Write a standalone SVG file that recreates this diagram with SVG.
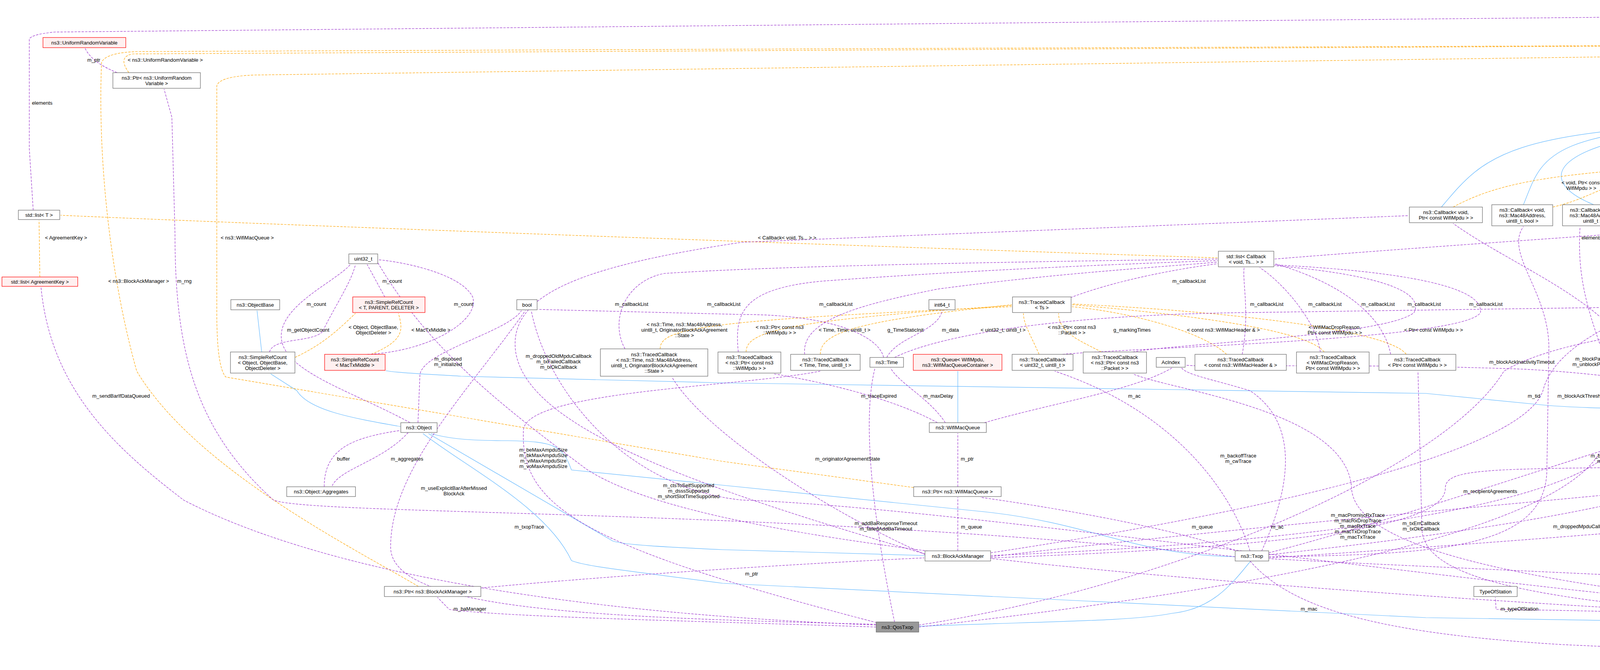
<svg xmlns="http://www.w3.org/2000/svg" width="7353" height="1715" viewBox="0 0 7353 1715">
<style>
text{font-family:"Liberation Sans",Arial,sans-serif;font-size:13px;fill:#000}
.nt{text-anchor:middle}
.l{text-anchor:middle;font-size:13px}
rect.n{fill:#fff;stroke:#666;stroke-width:1.2}
rect.r{fill:#fff0f0;stroke:#f00;stroke-width:1.2}
rect.g{fill:#999;stroke:#666;stroke-width:1.2}
path{fill:none}
.u{stroke:#9a32cd;stroke-width:1.2;stroke-dasharray:6,3;marker-end:url(#mu)}
.t{stroke:#ffa500;stroke-width:1.2;stroke-dasharray:6,3;marker-end:url(#mt)}
.i{stroke:#63b8ff;stroke-width:1.2;marker-end:url(#mi)}
</style>
<defs>
<marker id="mu" markerWidth="12" markerHeight="10" refX="11" refY="5" orient="auto" markerUnits="userSpaceOnUse"><path d="M0,0 L12,5 L0,10 z" fill="#9a32cd" stroke="none"/></marker>
<marker id="mt" markerWidth="12" markerHeight="10" refX="11" refY="5" orient="auto" markerUnits="userSpaceOnUse"><path d="M0,0 L12,5 L0,10 z" fill="#ffa500" stroke="none"/></marker>
<marker id="mi" markerWidth="12" markerHeight="10" refX="11" refY="5" orient="auto" markerUnits="userSpaceOnUse"><path d="M0,0 L12,5 L0,10 z" fill="#63b8ff" stroke="none"/></marker>
</defs>
<rect x="0" y="0" width="7353" height="1715" fill="#fff"/>
<g id="edges">
<!-- inheritance -->
<path class="i" d="M670 901 L658 795"/>
<path class="i" d="M1026 1092 C900 1070 790 1050 760 1000 L693 957"/>
<path class="i" d="M3162 1425 C2900 1420 2800 1340 2520 1310 L1850 1242 L1463 1203 C1440 1140 1420 1130 1300 1128 C1180 1128 1140 1120 1103 1110"/>
<path class="i" d="M2368 1422 L1850 1407 C1700 1400 1600 1395 1569 1385 L1097 1110"/>
<path class="i" d="M5024 1602 L3650 1581 L1850 1493 C1600 1460 1500 1450 1463 1435 C1400 1300 1200 1200 1083 1110"/>
<path class="i" d="M2452 1082 L2452 950"/>
<path class="i" d="M2352 1603 C2700 1590 2900 1590 3000 1570 C3100 1560 3150 1500 3200 1438"/>
<path class="i" d="M5063 1082 C4950 1060 4800 1045 4603 1044 C4400 1048 4100 1050 3954 1037 L3650 1007 L1850 980 L1180 963 C1100 958 1020 955 988 949"/>
<path class="i" d="M3690 530 C3800 400 3850 330 4500 313"/>
<path class="i" d="M3900 524 C3950 400 3950 330 4500 315"/>
<path class="i" d="M4080 524 C3900 450 4000 340 4500 318"/>
<path class="i" d="M4180 525 C4000 480 4200 360 4500 322"/>
<path class="i" d="M4574 403 L4574 329"/>
<path class="i" d="M4872 552 C5250 500 5200 380 4647 313"/>
<path class="i" d="M5212 538 C5230 420 5100 340 4647 316"/>
<path class="i" d="M5395 524 C5300 400 5150 330 4647 310"/>
<!-- template instances -->
<path class="t" d="M330 186 Q300 145 340 138 L6615 105"/>
<path class="t" d="M1071 1501 C900 1400 500 1200 350 950 C280 700 250 400 260 160 Q270 135 350 132 L6615 107"/>
<path class="t" d="M2339 1248 L1850 1181 L578 965 Q555 940 555 800 L555 220 Q560 196 650 192 L6615 112"/>
<path class="t" d="M6080 190 L6615 118"/>
<path class="t" d="M6890 251 L6700 124"/>
<path class="t" d="M7097 353 C7050 250 7000 180 6726 112"/>
<path class="t" d="M6660 907 C6640 800 6620 500 6668 124"/>
<path class="t" d="M5330 1246 C5700 1150 6750 1000 6760 870 L6770 650 C6780 500 6720 300 6690 124"/>
<path class="t" d="M5086 1512 C6000 1450 6880 1400 6885 1100 L6890 800 C6900 500 6760 300 6710 124"/>
<path class="t" d="M5166 1695 C6400 1680 7230 1640 7230 1500 L7230 250 C7220 180 7000 140 6726 110"/>
<path class="t" d="M102 709 L100 564"/>
<path class="t" d="M3117 660 C2500 640 800 580 155 551"/>
<path class="t" d="M755 915 C830 880 870 840 910 802"/>
<path class="t" d="M950 907 C1040 870 1030 840 1020 802"/>
<path class="t" d="M1690 893 C1690 840 1800 820 2590 785"/>
<path class="t" d="M1910 901 C1910 850 2000 820 2590 782"/>
<path class="t" d="M2100 907 C2100 850 2200 820 2590 780"/>
<path class="t" d="M2660 907 C2640 860 2620 830 2620 802"/>
<path class="t" d="M2820 901 C2760 870 2710 850 2710 802"/>
<path class="t" d="M3140 907 C3080 850 2900 800 2744 785"/>
<path class="t" d="M3390 901 C3350 850 3100 810 2744 780"/>
<path class="t" d="M3600 907 C3560 850 3200 800 2744 778"/>
<path class="t" d="M3720 530 C3850 460 4000 440 4475 415"/>
<path class="t" d="M3975 530 C4110 500 4130 430 4475 417"/>
<path class="t" d="M4155 530 C4330 520 4330 440 4480 420"/>
<path class="t" d="M4367 540 C4550 510 4570 470 4575 430"/>
<path class="t" d="M4795 530 C4790 480 4760 440 4673 420"/>
<path class="t" d="M5150 538 C4980 500 4960 440 4673 413"/>
<path class="t" d="M5400 524 C5200 460 5000 430 4673 411"/>
<path class="t" d="M4510 915 C4460 880 4447 840 4447 796"/>
<path class="t" d="M4730 901 C4720 860 4900 805 5100 800 L5716 785"/>
<path class="t" d="M5470 907 L5716 788"/>
<path class="t" d="M4964 1075 C5500 1000 5780 950 5790 795"/>
<path class="t" d="M4400 1156 C4600 1120 5200 1110 5500 1100 C5900 1090 6000 1000 5830 795"/>
<path class="t" d="M5900 987 C6000 950 6050 870 5860 800"/>
<path class="t" d="M6300 901 C6250 850 6050 800 5854 785"/>
<!-- usage -->
<path class="u" d="M300 186 Q235 160 218 124"/>
<path class="u" d="M6670 96 L6670 33"/>
<path class="u" d="M85 538 L75 380 L75 100 Q80 88 140 82 L6649 20"/>
<path class="u" d="M3162 1425 C2000 1300 800 1320 700 1280 C500 1100 448 900 448 600 L440 300 L420 228"/>
<path class="u" d="M2243 1600 C1200 1560 700 1400 470 1280 C300 1150 130 1000 105 735"/>
<path class="u" d="M985 760 L940 677"/>
<path class="u" d="M690 901 C700 860 820 880 830 840 C860 780 900 720 910 677"/>
<path class="u" d="M940 907 C1100 900 1230 820 1210 760 C1180 700 1030 670 969 665"/>
<path class="u" d="M1050 1082 C900 1000 720 950 720 860 C720 780 860 720 897 677"/>
<path class="u" d="M1070 1082 L1075 960 C1080 900 1300 850 1335 795"/>
<path class="u" d="M1045 1107 C980 1180 870 1200 850 1244"/>
<path class="u" d="M830 1246 C830 1150 900 1120 1024 1102"/>
<path class="u" d="M2740 762 C2850 720 3000 690 3117 675"/>
<path class="u" d="M1600 893 C1560 820 1600 720 1700 700 C2000 680 2600 670 3117 663"/>
<path class="u" d="M1890 901 C1880 800 1900 740 2100 720 C2500 690 2900 675 3117 667"/>
<path class="u" d="M2060 907 C2050 820 2200 780 2400 740 C2700 700 2950 685 3117 671"/>
<path class="u" d="M3180 907 C3200 800 3180 720 3185 685"/>
<path class="u" d="M3380 901 C3370 820 3280 720 3225 685"/>
<path class="u" d="M3560 907 C3540 800 3420 720 3263 675"/>
<path class="u" d="M2900 901 C3000 880 3550 860 3620 800 C3650 740 3500 700 3263 680"/>
<path class="u" d="M2720 907 C2900 890 3750 870 3790 800 C3800 720 3500 690 3263 678"/>
<path class="u" d="M2270 915 C2300 860 2400 850 2412 795"/>
<path class="u" d="M2262 915 C2250 860 2130 805 1900 805 L1377 792"/>
<path class="u" d="M2290 915 C2400 860 2700 805 3200 800 L4395 783"/>
<path class="u" d="M3263 663 C3800 620 4300 590 4715 555"/>
<path class="u" d="M2400 1082 C2250 1000 2000 960 1980 957"/>
<path class="u" d="M2420 1082 C2380 1020 2300 980 2280 942"/>
<path class="u" d="M2520 1082 C2700 1030 2900 1000 3000 942"/>
<path class="u" d="M2452 1246 L2452 1109"/>
<path class="u" d="M2452 1410 L2452 1273"/>
<path class="u" d="M3170 1412 C3000 1350 2700 1300 2510 1273"/>
<path class="u" d="M3230 1410 C3280 1300 3350 1100 3200 1000 C3100 970 3040 960 3025 942"/>
<path class="u" d="M3200 1410 C3150 1250 3000 1050 2700 950"/>
<path class="u" d="M2370 1420 C2100 1300 1800 1100 1720 965"/>
<path class="u" d="M2290 1592 C2250 1400 2200 1100 2240 942"/>
<path class="u" d="M2243 1605 C1800 1590 1300 1580 1150 1560 L1120 1529"/>
<path class="u" d="M1231 1505 C1600 1470 2100 1440 2366 1428"/>
<path class="u" d="M2243 1598 C1500 1580 1000 1560 1000 1400 C1000 1200 1200 1000 1345 795"/>
<path class="u" d="M2245 1594 C1500 1400 1330 1300 1340 1100 C1350 1000 1900 990 2100 950"/>
<path class="u" d="M5024 1600 C4000 1540 2500 1300 1900 1280 C1600 1250 1400 1000 1360 795"/>
<path class="u" d="M2368 1418 C1800 1250 1350 1100 1320 900 C1300 750 1500 680 1900 620 L3606 552"/>
<path class="u" d="M5024 1606 C3000 1500 1800 1400 1500 1200 C1300 1050 1100 900 967 672"/>
<path class="u" d="M5026 1598 C4000 1520 3470 1420 3460 1250 C3450 1050 3000 1000 2900 957"/>
<path class="u" d="M5024 1606 C4000 1560 3640 1500 3640 1350 L3630 950"/>
<path class="u" d="M5024 1596 C4400 1560 4245 1400 4245 1200 L4255 580"/>
<path class="u" d="M3248 1425 C3700 1420 3960 1400 3960 1200 L3965 900 C3970 750 3850 650 3900 580"/>
<path class="u" d="M5024 1600 C4400 1570 4205 1500 4205 1300 L4200 1000 C4200 800 3900 700 3720 572"/>
<path class="u" d="M2536 1422 C3600 1380 4150 1250 4150 1100 C4130 900 4030 800 4045 580"/>
<path class="u" d="M2352 1600 C3000 1500 3700 1200 3850 950 C4100 800 4900 810 5030 795"/>
<path class="u" d="M5030 1595 C4750 1500 4680 1300 4690 1100 C4700 950 4900 820 5040 795"/>
<path class="u" d="M2536 1415 C3300 1300 3900 1150 3950 1000 C4000 800 4500 700 4784 663"/>
<path class="u" d="M2352 1605 C3300 1500 4000 1350 4100 1150 C4200 900 4500 700 4784 668"/>
<path class="u" d="M2536 1428 C3300 1400 3700 1350 3700 1250 C3700 1200 3800 1200 4238 1196"/>
<path class="u" d="M2536 1425 C3600 1300 4500 1250 5100 1150 L5790 1044"/>
<path class="u" d="M3248 1420 C3900 1350 4500 1250 4560 1100 C4650 1000 4700 980 4720 957"/>
<path class="u" d="M4760 901 C4740 850 4790 780 4812 677"/>
<path class="u" d="M4690 901 C4650 870 4680 840 4690 802"/>
<path class="u" d="M5024 1600 C4700 1560 4560 1450 4560 1300 L4561 942"/>
<path class="u" d="M4561 915 L4545 800 C4560 740 4700 690 4784 670"/>
<path class="u" d="M4806 1080 C4500 1020 4200 960 3900 945 C3500 930 3100 940 3036 935"/>
<path class="u" d="M3248 1415 C3700 1300 4500 1000 4880 942"/>
<path class="u" d="M4480 767 C4700 720 5000 680 5259 662"/>
<path class="u" d="M5730 767 C5600 720 5450 680 5301 662"/>
<path class="u" d="M5852 777 C6300 740 6560 650 6570 400 C6580 300 6700 250 6740 150 C6760 80 6720 30 6692 22"/>
<path class="u" d="M5245 834 C5200 780 5000 720 4855 670"/>
<path class="u" d="M5420 767 C5350 700 5100 680 4855 662"/>
<path class="u" d="M5360 907 C5380 870 5400 830 5410 795"/>
<path class="u" d="M5310 907 C5200 880 5120 850 5070 795"/>
<path class="u" d="M5140 1082 C5200 1030 5350 1000 5400 950"/>
<path class="u" d="M5110 1082 L5080 795"/>
<path class="u" d="M5260 1246 C5250 1180 5180 1140 5160 1109"/>
<path class="u" d="M5100 1592 C5180 1500 5230 1400 5260 1273"/>
<path class="u" d="M3248 1428 C4000 1380 4900 1300 5180 1273"/>
<path class="u" d="M5060 1592 C5020 1500 5000 1300 5000 1100 L5040 795"/>
<path class="u" d="M5060 1592 C4900 1550 4890 1400 4890 1300 L4890 1124"/>
<path class="u" d="M5060 1592 L5010 1529"/>
<path class="u" d="M4924 1515 C4400 1480 3600 1450 3250 1430"/>
<path class="u" d="M5076 1682 L5076 1620"/>
<path class="u" d="M3200 1436 C3300 1550 3500 1620 4000 1650 L4983 1695"/>
<path class="u" d="M5024 1602 C4500 1570 3900 1560 3830 1560 L3828 1529"/>
<path class="u" d="M5128 1602 C5500 1580 5660 1500 5665 1300 L5655 965"/>
<path class="u" d="M5128 1600 C5450 1550 5517 1450 5517 1300 L5500 795"/>
<path class="u" d="M5128 1600 C5350 1520 5400 1400 5400 1200 L5260 861"/>
<path class="u" d="M5128 1604 C5700 1570 6100 1520 6100 1300 L6100 1100 C6100 1000 6200 980 6258 957"/>
<path class="u" d="M5128 1606 C5900 1580 6530 1540 6530 1400 L6532 900 C6530 750 6300 600 5559 551"/>
<path class="u" d="M5128 1604 C5800 1580 6410 1540 6410 1400 L6430 1000 C6440 800 6300 740 5800 700 C5500 660 5350 620 5290 564"/>
<path class="u" d="M5128 1606 C6000 1590 6725 1550 6725 1400 L6685 950"/>
<path class="u" d="M5128 1608 C6200 1600 6985 1560 6985 1400 L6912 279"/>
<path class="u" d="M5128 1608 C6250 1605 7097 1570 7097 1400 L7097 380"/>
<path class="u" d="M4645 308 L5881 216"/>
</g>
<g id="edge-labels">
<text class="l" x="108" y="268">elements</text>
<text class="l" x="240" y="158">m_ptr</text>
<text class="l" x="423" y="158">&lt; ns3::UniformRandomVariable &gt;</text>
<text class="l" x="633" y="613">&lt; ns3::WifiMacQueue &gt;</text>
<text class="l" x="355" y="724">&lt; ns3::BlockAckManager &gt;</text>
<text class="l" x="472" y="724">m_rng</text>
<text class="l" x="169" y="613">&lt; AgreementKey &gt;</text>
<text class="l" x="2015" y="613">&lt; Callback&lt; void, Ts... &gt; &gt;</text>
<text class="l" x="310" y="1018">m_sendBarIfDataQueued</text>
<text class="l" x="1004" y="724">m_count</text>
<text class="l" x="810" y="783">m_count</text>
<text class="l" x="1187" y="783">m_count</text>
<text class="l" x="789" y="849">m_getObjectCount</text>
<text class="l" x="956" y="842"><tspan x="956">&lt; Object, ObjectBase,</tspan><tspan x="956" dy="14">ObjectDeleter &gt;</tspan></text>
<text class="l" x="1103" y="849">&lt; MacTxMiddle &gt;</text>
<text class="l" x="1617" y="783">m_callbackList</text>
<text class="l" x="1853" y="783">m_callbackList</text>
<text class="l" x="2140" y="783">m_callbackList</text>
<text class="l" x="3044" y="724">m_callbackList</text>
<text class="l" x="3243" y="783">m_callbackList</text>
<text class="l" x="3392" y="783">m_callbackList</text>
<text class="l" x="3528" y="783">m_callbackList</text>
<text class="l" x="3646" y="783">m_callbackList</text>
<text class="l" x="3804" y="783">m_callbackList</text>
<text class="l" x="1752" y="835"><tspan x="1752">&lt; ns3::Time, ns3::Mac48Address,</tspan><tspan x="1752" dy="14">uint8_t, OriginatorBlockAckAgreement</tspan><tspan x="1752" dy="14">::State &gt;</tspan></text>
<text class="l" x="1996" y="842"><tspan x="1996">&lt; ns3::Ptr&lt; const ns3</tspan><tspan x="1996" dy="14">::WifiMpdu &gt; &gt;</tspan></text>
<text class="l" x="2162" y="849">&lt; Time, Time, uint8_t &gt;</text>
<text class="l" x="2318" y="849">g_TimeStaticInit</text>
<text class="l" x="2433" y="849">m_data</text>
<text class="l" x="2568" y="849">&lt; uint32_t, uint8_t &gt;</text>
<text class="l" x="2744" y="842"><tspan x="2744">&lt; ns3::Ptr&lt; const ns3</tspan><tspan x="2744" dy="14">::Packet &gt; &gt;</tspan></text>
<text class="l" x="2898" y="849">g_markingTimes</text>
<text class="l" x="3132" y="849">&lt; const ns3::WifiMacHeader &amp; &gt;</text>
<text class="l" x="3417" y="842"><tspan x="3417">&lt; WifiMacDropReason,</tspan><tspan x="3417" dy="14">Ptr&lt; const WifiMpdu &gt; &gt;</tspan></text>
<text class="l" x="3670" y="849">&lt; Ptr&lt; const WifiMpdu &gt; &gt;</text>
<text class="l" x="5411" y="267">m_impl</text>
<text class="l" x="4048" y="472"><tspan x="4048">&lt; void, Ptr&lt; const</tspan><tspan x="4048" dy="14">WifiMpdu &gt; &gt;</tspan></text>
<text class="l" x="4232" y="472"><tspan x="4232">&lt; void, ns3::Mac48Address,</tspan><tspan x="4232" dy="14">uint8_t, bool &gt;</tspan></text>
<text class="l" x="4449" y="472"><tspan x="4449">&lt; void, ns3::Mac48Address,</tspan><tspan x="4449" dy="14">uint8_t &gt;</tspan></text>
<text class="l" x="4667" y="472"><tspan x="4667">&lt; void, WifiMacDropReason,</tspan><tspan x="4667" dy="14">Ptr&lt; const WifiMpdu &gt; &gt;</tspan></text>
<text class="l" x="4840" y="478">&lt; void, Ts... &gt;</text>
<text class="l" x="4955" y="478">&lt; void &gt;</text>
<text class="l" x="5247" y="465"><tspan x="5247">&lt; void, Ptr&lt; const</tspan><tspan x="5247" dy="14">Packet &gt;, Mac48Address,</tspan><tspan x="5247" dy="14">Mac48Address &gt;</tspan></text>
<text class="l" x="4075" y="613">elements</text>
<text class="l" x="3896" y="931">m_blockAckInactivityTimeout</text>
<text class="l" x="4080" y="923"><tspan x="4080">m_blockPackets</tspan><tspan x="4080" dy="14">m_unblockPackets</tspan></text>
<text class="l" x="4330" y="931">m_droppedMpduCallback</text>
<text class="l" x="3927" y="1018">m_tid</text>
<text class="l" x="4051" y="1018">m_blockAckThreshold</text>
<text class="l" x="4599" y="1018">keys</text>
<text class="l" x="5145" y="931">m_sequence</text>
<text class="l" x="5150" y="1018">m_scheduler</text>
<text class="l" x="5339" y="1018">m_qosSequences</text>
<text class="l" x="4136" y="1171"><tspan x="4136">m_blockAckThreshold</tspan><tspan x="4136" dy="14">m_nMaxInflights</tspan></text>
<text class="l" x="3815" y="1262">m_recipientAgreements</text>
<text class="l" x="4572" y="1179">m_links</text>
<text class="l" x="5140" y="1179">m_originatorAgreements</text>
<text class="l" x="5278" y="1179">m_ptr</text>
<text class="l" x="5070" y="1239"><tspan x="5070">m_beMaxAmsduSize</tspan><tspan x="5070" dy="14">m_bkMaxAmsduSize</tspan><tspan x="5070" dy="14">m_viMaxAmsduSize</tspan><tspan x="5070" dy="14">m_voMaxAmsduSize</tspan></text>
<text class="l" x="4782" y="1262">m_blockAckInactivityTimeout</text>
<text class="l" x="3638" y="1344"><tspan x="3638">m_txErrCallback</tspan><tspan x="3638" dy="14">m_txOkCallback</tspan></text>
<text class="l" x="4050" y="1352">m_droppedMpduCallback</text>
<text class="l" x="4280" y="1344"><tspan x="4280">m_ackedMpduCallback</tspan><tspan x="4280" dy="14">m_nackedMpduCallback</tspan></text>
<text class="l" x="4596" y="1352">m_linkIds</text>
<text class="l" x="5081" y="1352">m_txMiddle</text>
<text class="l" x="4915" y="1427">m_edca</text>
<text class="l" x="4291" y="1473">m_ptr</text>
<text class="l" x="5250" y="1473">m_txMiddle</text>
<text class="l" x="3890" y="1563">m_typeOfStation</text>
<text class="l" x="5076" y="1563">m_txop</text>
<text class="l" x="5100" y="1654">m_ptr</text>
<text class="l" x="5430" y="1262">m_ssid</text>
<text class="l" x="4876" y="724">keys</text>
<text class="l" x="5084" y="717"><tspan x="5084">m_length</tspan><tspan x="5084" dy="14">m_ssid</tspan></text>
<text class="l" x="5386" y="724">m_address</text>
<text class="l" x="4587" y="783">keys</text>
<text class="l" x="4828" y="783">keys</text>
<text class="l" x="4498" y="849">&lt; uint8_t &gt;</text>
<text class="l" x="4635" y="849">elements</text>
<text class="l" x="4830" y="842"><tspan x="4830">&lt; uint8_t, std::unique</tspan><tspan x="4830" dy="14">_ptr&lt; ns3::Txop::LinkEntity &gt; &gt;</tspan></text>
<text class="l" x="4990" y="849">m_tid</text>
<text class="l" x="5167" y="849">elements</text>
<text class="l" x="5340" y="849">keys</text>
<text class="l" x="6696" y="67">m_ptr</text>
<text class="l" x="6503" y="158">&lt; ns3::CallbackImplBase &gt;</text>
<text class="l" x="6876" y="158">&lt; ns3::MacRxMiddle &gt;</text>
<text class="l" x="7114" y="210">&lt; ns3::WifiNetDevice &gt;</text>
<text class="l" x="6601" y="369">elements</text>
<text class="l" x="6713" y="478">&lt; ns3::WifiMacQueueScheduler &gt;</text>
<text class="l" x="6840" y="613">&lt; ns3::MacTxMiddle &gt;</text>
<text class="l" x="6933" y="724">&lt; ns3::Txop &gt;</text>
<text class="l" x="5612" y="724">keys</text>
<text class="l" x="6422" y="783">keys</text>
<text class="l" x="7029" y="849">m_rxMiddle</text>
<text class="l" x="7288" y="849">&lt; ns3::WifiMac &gt;</text>
<text class="l" x="5509" y="842"><tspan x="5509">&lt; ns3::Mac48Address,</tspan><tspan x="5509" dy="14">uint16_t * &gt;</tspan></text>
<text class="l" x="5636" y="849">keys</text>
<text class="l" x="5736" y="849">elements</text>
<text class="l" x="6070" y="835"><tspan x="6070">&lt; AgreementKey, std</tspan><tspan x="6070" dy="14">::pair&lt; OriginatorBlockAck</tspan><tspan x="6070" dy="14">Agreement, PacketQueue &gt; &gt;</tspan></text>
<text class="l" x="6319" y="842"><tspan x="6319">&lt; uint8_t, std::unique</tspan><tspan x="6319" dy="14">_ptr&lt; ns3::WifiMac::LinkEntity &gt; &gt;</tspan></text>
<text class="l" x="5872" y="923"><tspan x="5872">&lt; AcIndex, Ptr&lt; QosTxop</tspan><tspan x="5872" dy="14">&gt;, std::greater&lt;&gt; &gt;</tspan></text>
<text class="l" x="6070" y="923"><tspan x="6070">&lt; AgreementKey, Recipient</tspan><tspan x="6070" dy="14">BlockAckAgreement &gt;</tspan></text>
<text class="l" x="7132" y="931">m_device</text>
<text class="l" x="6464" y="1091"><tspan x="6464">m_linkDown</tspan><tspan x="6464" dy="14">m_linkUp</tspan></text>
<text class="l" x="6580" y="1098">m_forwardUp</text>
<text class="l" x="5556" y="1262">m_address</text>
<text class="l" x="5742" y="1344"><tspan x="5742">m_dlTidLinkMappings</tspan><tspan x="5742" dy="14">m_ulTidLinkMappings</tspan></text>
<text class="l" x="6130" y="1352">m_links</text>
<text class="l" x="6760" y="1352">m_scheduler</text>
<text class="l" x="1147" y="923"><tspan x="1147">m_disposed</tspan><tspan x="1147" dy="14">m_initialized</tspan></text>
<text class="l" x="1430" y="916"><tspan x="1430">m_droppedOldMpduCallback</tspan><tspan x="1430" dy="14">m_txFailedCallback</tspan><tspan x="1430" dy="14">m_txOkCallback</tspan></text>
<text class="l" x="879" y="1179">buffer</text>
<text class="l" x="1042" y="1179">m_aggregates</text>
<text class="l" x="1391" y="1156"><tspan x="1391">m_beMaxAmpduSize</tspan><tspan x="1391" dy="14">m_bkMaxAmpduSize</tspan><tspan x="1391" dy="14">m_viMaxAmpduSize</tspan><tspan x="1391" dy="14">m_voMaxAmpduSize</tspan></text>
<text class="l" x="1162" y="1254"><tspan x="1162">m_useExplicitBarAfterMissed</tspan><tspan x="1162" dy="14">BlockAck</tspan></text>
<text class="l" x="1763" y="1247"><tspan x="1763">m_ctsToSelfSupported</tspan><tspan x="1763" dy="14">m_dsssSupported</tspan><tspan x="1763" dy="14">m_shortSlotTimeSupported</tspan></text>
<text class="l" x="1355" y="1353">m_txopTrace</text>
<text class="l" x="1203" y="1563">m_baManager</text>
<text class="l" x="2250" y="1018">m_traceExpired</text>
<text class="l" x="2402" y="1018">m_maxDelay</text>
<text class="l" x="2904" y="1018">m_ac</text>
<text class="l" x="2170" y="1179">m_originatorAgreementState</text>
<text class="l" x="2476" y="1179">m_ptr</text>
<text class="l" x="3170" y="1171"><tspan x="3170">m_backoffTrace</tspan><tspan x="3170" dy="14">m_cwTrace</tspan></text>
<text class="l" x="2268" y="1344"><tspan x="2268">m_addBaResponseTimeout</tspan><tspan x="2268" dy="14">m_failedAddBaTimeout</tspan></text>
<text class="l" x="2487" y="1353">m_queue</text>
<text class="l" x="3078" y="1353">m_queue</text>
<text class="l" x="3270" y="1353">m_ac</text>
<text class="l" x="3476" y="1323"><tspan x="3476">m_macPromiscRxTrace</tspan><tspan x="3476" dy="14">m_macRxDropTrace</tspan><tspan x="3476" dy="14">m_macRxTrace</tspan><tspan x="3476" dy="14">m_macTxDropTrace</tspan><tspan x="3476" dy="14">m_macTxTrace</tspan></text>
<text class="l" x="1924" y="1473">m_ptr</text>
<text class="l" x="3351" y="1563">m_mac</text>
</g>
<g id="n1"><rect class="r" x="110" y="96" width="212" height="26"/><text class="nt" x="216" y="113.5">ns3::UniformRandomVariable</text></g>
<g id="n2"><rect class="n" x="289" y="186" width="224" height="40"/><text class="nt" x="401" y="203.5">ns3::Ptr&lt; ns3::UniformRandom</text><text class="nt" x="401" y="217.5">Variable &gt;</text></g>
<g id="n3"><rect class="n" x="47" y="538" width="106" height="24"/><text class="nt" x="100" y="554.5">std::list&lt; T &gt;</text></g>
<g id="n4"><rect class="r" x="5" y="709" width="194" height="24"/><text class="nt" x="102" y="725.5">std::list&lt; AgreementKey &gt;</text></g>
<g id="n5"><rect class="n" x="893" y="650" width="74" height="25"/><text class="nt" x="930" y="667">uint32_t</text></g>
<g id="n6"><rect class="n" x="591" y="767" width="125" height="26"/><text class="nt" x="653.5" y="784.5">ns3::ObjectBase</text></g>
<g id="n7"><rect class="r" x="903" y="760" width="185" height="40"/><text class="nt" x="995.5" y="777.5">ns3::SimpleRefCount</text><text class="nt" x="995.5" y="791.5">&lt; T, PARENT, DELETER &gt;</text></g>
<g id="n8"><rect class="n" x="1323" y="767" width="52" height="26"/><text class="nt" x="1349" y="784.5">bool</text></g>
<g id="n9"><rect class="n" x="2378" y="767" width="67" height="26"/><text class="nt" x="2411.5" y="784.5">int64_t</text></g>
<g id="n10"><rect class="n" x="2592" y="760" width="150" height="40"/><text class="nt" x="2667" y="777.5">ns3::TracedCallback</text><text class="nt" x="2667" y="791.5">&lt; Ts &gt;</text></g>
<g id="n11"><rect class="n" x="3119" y="643" width="142" height="40"/><text class="nt" x="3190" y="660.5">std::list&lt; Callback</text><text class="nt" x="3190" y="674.5">&lt; void, Ts... &gt; &gt;</text></g>
<g id="n12"><rect class="n" x="4503" y="302" width="142" height="25"/><text class="nt" x="4574" y="319">ns3::CallbackBase</text></g>
<g id="n13"><rect class="n" x="4477" y="403" width="194" height="25"/><text class="nt" x="4574" y="420">ns3::Callback&lt; R, UArgs &gt;</text></g>
<g id="n14"><rect class="n" x="3608" y="530" width="187" height="40"/><text class="nt" x="3701.5" y="547.5">ns3::Callback&lt; void,</text><text class="nt" x="3701.5" y="561.5">Ptr&lt; const WifiMpdu &gt; &gt;</text></g>
<g id="n15"><rect class="n" x="3819" y="524" width="156" height="54"/><text class="nt" x="3897" y="541.5">ns3::Callback&lt; void,</text><text class="nt" x="3897" y="555.5">ns3::Mac48Address,</text><text class="nt" x="3897" y="569.5">uint8_t, bool &gt;</text></g>
<g id="n16"><rect class="n" x="4000" y="524" width="155" height="54"/><text class="nt" x="4077.5" y="541.5">ns3::Callback&lt; void,</text><text class="nt" x="4077.5" y="555.5">ns3::Mac48Address,</text><text class="nt" x="4077.5" y="569.5">uint8_t &gt;</text></g>
<g id="n17"><rect class="n" x="4179" y="524" width="188" height="54"/><text class="nt" x="4273" y="541.5">ns3::Callback&lt; void,</text><text class="nt" x="4273" y="555.5">WifiMacDropReason,</text><text class="nt" x="4273" y="569.5">Ptr&lt; const WifiMpdu &gt; &gt;</text></g>
<g id="n18"><rect class="n" x="4717" y="530" width="155" height="40"/><text class="nt" x="4794.5" y="547.5">ns3::Callback&lt; void,</text><text class="nt" x="4794.5" y="561.5">Ts... &gt;</text></g>
<g id="n19"><rect class="n" x="5126" y="538" width="158" height="24"/><text class="nt" x="5205" y="554.5">ns3::Callback&lt; void &gt;</text></g>
<g id="n20"><rect class="n" x="5317" y="524" width="240" height="54"/><text class="nt" x="5437" y="541.5">ns3::Callback&lt; void,</text><text class="nt" x="5437" y="555.5">Ptr&lt; const Packet &gt;</text><text class="nt" x="5437" y="569.5">, Mac48Address, Mac48Address &gt;</text></g>
<g id="n21"><rect class="n" x="4786" y="650" width="67" height="25"/><text class="nt" x="4819.5" y="667">uint8_t</text></g>
<g id="n22"><rect class="n" x="5261" y="650" width="38" height="25"/><text class="nt" x="5280" y="667">K</text></g>
<g id="n23"><rect class="n" x="4397" y="767" width="109" height="26"/><text class="nt" x="4451.5" y="784.5">std::set&lt; K &gt;</text></g>
<g id="n24"><rect class="r" x="4615" y="760" width="157" height="40"/><text class="nt" x="4693.5" y="777.5">std::unique_ptr&lt; ns3</text><text class="nt" x="4693.5" y="791.5">::Txop::LinkEntity &gt;</text></g>
<g id="n25"><rect class="n" x="5022" y="767" width="75" height="26"/><text class="nt" x="5059.5" y="784.5">uint16_t</text></g>
<g id="n26"><rect class="r" x="5365" y="767" width="148" height="26"/><text class="nt" x="5439" y="784.5">ns3::Mac48Address</text></g>
<g id="n27"><rect class="r" x="5211" y="834" width="76" height="25"/><text class="nt" x="5249" y="851">ns3::Ssid</text></g>
<g id="n28"><rect class="n" x="6651" y="5" width="39" height="26"/><text class="nt" x="6670.5" y="22.5">T</text></g>
<g id="n29"><rect class="n" x="6617" y="96" width="107" height="26"/><text class="nt" x="6670.5" y="113.5">ns3::Ptr&lt; T &gt;</text></g>
<g id="n30"><rect class="r" x="5883" y="186" width="201" height="40"/><text class="nt" x="5983.5" y="203.5">ns3::Ptr&lt; ns3::CallbackImpl</text><text class="nt" x="5983.5" y="217.5">Base &gt;</text></g>
<g id="n31"><rect class="r" x="6795" y="251" width="218" height="26"/><text class="nt" x="6904" y="268.5">ns3::Ptr&lt; ns3::MacRxMiddle &gt;</text></g>
<g id="n32"><rect class="r" x="6985" y="353" width="224" height="25"/><text class="nt" x="7097" y="370">ns3::Ptr&lt; ns3::WifiNetDevice &gt;</text></g>
<g id="n33"><rect class="n" x="5718" y="767" width="134" height="26"/><text class="nt" x="5785" y="784.5">std::map&lt; K, T &gt;</text></g>
<g id="n34"><rect class="n" x="590" y="901" width="165" height="54"/><text class="nt" x="672.5" y="918.5">ns3::SimpleRefCount</text><text class="nt" x="672.5" y="932.5">&lt; Object, ObjectBase,</text><text class="nt" x="672.5" y="946.5">ObjectDeleter &gt;</text></g>
<g id="n35"><rect class="r" x="831" y="907" width="155" height="41"/><text class="nt" x="908.5" y="925">ns3::SimpleRefCount</text><text class="nt" x="908.5" y="939">&lt; MacTxMiddle &gt;</text></g>
<g id="n36"><rect class="n" x="1026" y="1082" width="93" height="25"/><text class="nt" x="1072.5" y="1099">ns3::Object</text></g>
<g id="n37"><rect class="n" x="734" y="1246" width="176" height="25"/><text class="nt" x="822" y="1263">ns3::Object::Aggregates</text></g>
<g id="n38"><rect class="n" x="984" y="1501" width="247" height="26"/><text class="nt" x="1107.5" y="1518.5">ns3::Ptr&lt; ns3::BlockAckManager &gt;</text></g>
<g id="n39"><rect class="n" x="1537" y="893" width="275" height="70"/><text class="nt" x="1674.5" y="911.5">ns3::TracedCallback</text><text class="nt" x="1674.5" y="925.5">&lt; ns3::Time, ns3::Mac48Address,</text><text class="nt" x="1674.5" y="939.5">uint8_t, OriginatorBlockAckAgreement</text><text class="nt" x="1674.5" y="953.5">::State &gt;</text></g>
<g id="n40"><rect class="n" x="1838" y="901" width="161" height="54"/><text class="nt" x="1918.5" y="918.5">ns3::TracedCallback</text><text class="nt" x="1918.5" y="932.5">&lt; ns3::Ptr&lt; const ns3</text><text class="nt" x="1918.5" y="946.5">::WifiMpdu &gt; &gt;</text></g>
<g id="n41"><rect class="n" x="2024" y="907" width="178" height="41"/><text class="nt" x="2113" y="925">ns3::TracedCallback</text><text class="nt" x="2113" y="939">&lt; Time, Time, uint8_t &gt;</text></g>
<g id="n42"><rect class="n" x="2227" y="915" width="86" height="25"/><text class="nt" x="2270" y="932">ns3::Time</text></g>
<g id="n43"><rect class="r" x="2338" y="907" width="227" height="41"/><text class="nt" x="2451.5" y="925">ns3::Queue&lt; WifiMpdu,</text><text class="nt" x="2451.5" y="939">ns3::WifiMacQueueContainer &gt;</text></g>
<g id="n44"><rect class="n" x="2591" y="907" width="156" height="41"/><text class="nt" x="2669" y="925">ns3::TracedCallback</text><text class="nt" x="2669" y="939">&lt; uint32_t, uint8_t &gt;</text></g>
<g id="n45"><rect class="n" x="2773" y="901" width="162" height="54"/><text class="nt" x="2854" y="918.5">ns3::TracedCallback</text><text class="nt" x="2854" y="932.5">&lt; ns3::Ptr&lt; const ns3</text><text class="nt" x="2854" y="946.5">::Packet &gt; &gt;</text></g>
<g id="n46"><rect class="n" x="2960" y="915" width="74" height="25"/><text class="nt" x="2997" y="932">AcIndex</text></g>
<g id="n47"><rect class="n" x="3059" y="907" width="234" height="41"/><text class="nt" x="3176" y="925">ns3::TracedCallback</text><text class="nt" x="3176" y="939">&lt; const ns3::WifiMacHeader &amp; &gt;</text></g>
<g id="n48"><rect class="n" x="3319" y="901" width="186" height="54"/><text class="nt" x="3412" y="918.5">ns3::TracedCallback</text><text class="nt" x="3412" y="932.5">&lt; WifiMacDropReason,</text><text class="nt" x="3412" y="946.5">Ptr&lt; const WifiMpdu &gt; &gt;</text></g>
<g id="n49"><rect class="n" x="3530" y="907" width="197" height="41"/><text class="nt" x="3628.5" y="925">ns3::TracedCallback</text><text class="nt" x="3628.5" y="939">&lt; Ptr&lt; const WifiMpdu &gt; &gt;</text></g>
<g id="n50"><rect class="n" x="2379" y="1082" width="146" height="25"/><text class="nt" x="2452" y="1099">ns3::WifiMacQueue</text></g>
<g id="n51"><rect class="n" x="2339" y="1246" width="224" height="25"/><text class="nt" x="2451" y="1263">ns3::Ptr&lt; ns3::WifiMacQueue &gt;</text></g>
<g id="n52"><rect class="n" x="2368" y="1410" width="168" height="26"/><text class="nt" x="2452" y="1427.5">ns3::BlockAckManager</text></g>
<g id="n53"><rect class="n" x="3162" y="1410" width="86" height="26"/><text class="nt" x="3205" y="1427.5">ns3::Txop</text></g>
<g id="n54"><rect class="g" x="2243" y="1592" width="109" height="26"/><text class="nt" x="2297.5" y="1609.5">ns3::QosTxop</text></g>
<g id="n55"><rect class="n" x="4489" y="915" width="145" height="25"/><text class="nt" x="4561.5" y="932">std::set&lt; uint8_t &gt;</text></g>
<g id="n56"><rect class="n" x="4658" y="901" width="166" height="54"/><text class="nt" x="4741" y="918.5">std::map&lt; uint8_t,</text><text class="nt" x="4741" y="932.5">std::unique_ptr&lt; ns3</text><text class="nt" x="4741" y="946.5">::Txop::LinkEntity &gt; &gt;</text></g>
<g id="n57"><rect class="n" x="4848" y="915" width="95" height="25"/><text class="nt" x="4895.5" y="932">ns3::TypeId</text></g>
<g id="n58"><rect class="n" x="5255" y="907" width="222" height="41"/><text class="nt" x="5366" y="925">std::map&lt; ns3::Mac48Address,</text><text class="nt" x="5366" y="939">uint16_t * &gt;</text></g>
<g id="n59"><rect class="r" x="4806" y="1068" width="158" height="54"/><text class="nt" x="4885" y="1085.5">std::map&lt; AcIndex,</text><text class="nt" x="4885" y="1099.5">Ptr&lt; QosTxop &gt;, std</text><text class="nt" x="4885" y="1113.5">::greater&lt;&gt; &gt;</text></g>
<g id="n60"><rect class="n" x="5048" y="1082" width="136" height="25"/><text class="nt" x="5116" y="1099">ns3::MacTxMiddle</text></g>
<g id="n61"><rect class="r" x="4221" y="1156" width="231" height="40"/><text class="nt" x="4336.5" y="1173.5">std::map&lt; AgreementKey,</text><text class="nt" x="4336.5" y="1187.5">RecipientBlockAckAgreement &gt;</text></g>
<g id="n62"><rect class="n" x="5153" y="1246" width="215" height="25"/><text class="nt" x="5260.5" y="1263">ns3::Ptr&lt; ns3::MacTxMiddle &gt;</text></g>
<g id="n63"><rect class="n" x="3773" y="1501" width="111" height="26"/><text class="nt" x="3828.5" y="1518.5">TypeOfStation</text></g>
<g id="n64"><rect class="n" x="4924" y="1501" width="162" height="26"/><text class="nt" x="5005" y="1518.5">ns3::Ptr&lt; ns3::Txop &gt;</text></g>
<g id="n65"><rect class="r" x="5024" y="1592" width="104" height="26"/><text class="nt" x="5076" y="1609.5">ns3::WifiMac</text></g>
<g id="n66"><rect class="n" x="4985" y="1682" width="181" height="26"/><text class="nt" x="5075.5" y="1699.5">ns3::Ptr&lt; ns3::WifiMac &gt;</text></g>
<g id="n67"><rect class="r" x="5554" y="893" width="181" height="70"/><text class="nt" x="5644.5" y="911.5">std::unordered_map</text><text class="nt" x="5644.5" y="925.5">&lt; ns3::Mac48Address,</text><text class="nt" x="5644.5" y="939.5">WifiTidLinkMapping,</text><text class="nt" x="5644.5" y="953.5">ns3::WifiAddressHash &gt;</text></g>
<g id="n68"><rect class="r" x="5774" y="987" width="218" height="55"/><text class="nt" x="5883" y="1005">std::map&lt; AgreementKey,</text><text class="nt" x="5883" y="1019">std::pair&lt; OriginatorBlockAck</text><text class="nt" x="5883" y="1033">Agreement, PacketQueue &gt; &gt;</text></g>
<g id="n69"><rect class="r" x="6261" y="901" width="184" height="54"/><text class="nt" x="6353" y="918.5">std::map&lt; uint8_t,</text><text class="nt" x="6353" y="932.5">std::unique_ptr&lt; ns3</text><text class="nt" x="6353" y="946.5">::WifiMac::LinkEntity &gt; &gt;</text></g>
<g id="n70"><rect class="r" x="6570" y="907" width="211" height="41"/><text class="nt" x="6675.5" y="925">ns3::Ptr&lt; ns3::WifiMacQueue</text><text class="nt" x="6675.5" y="939">Scheduler &gt;</text></g>
</svg>
